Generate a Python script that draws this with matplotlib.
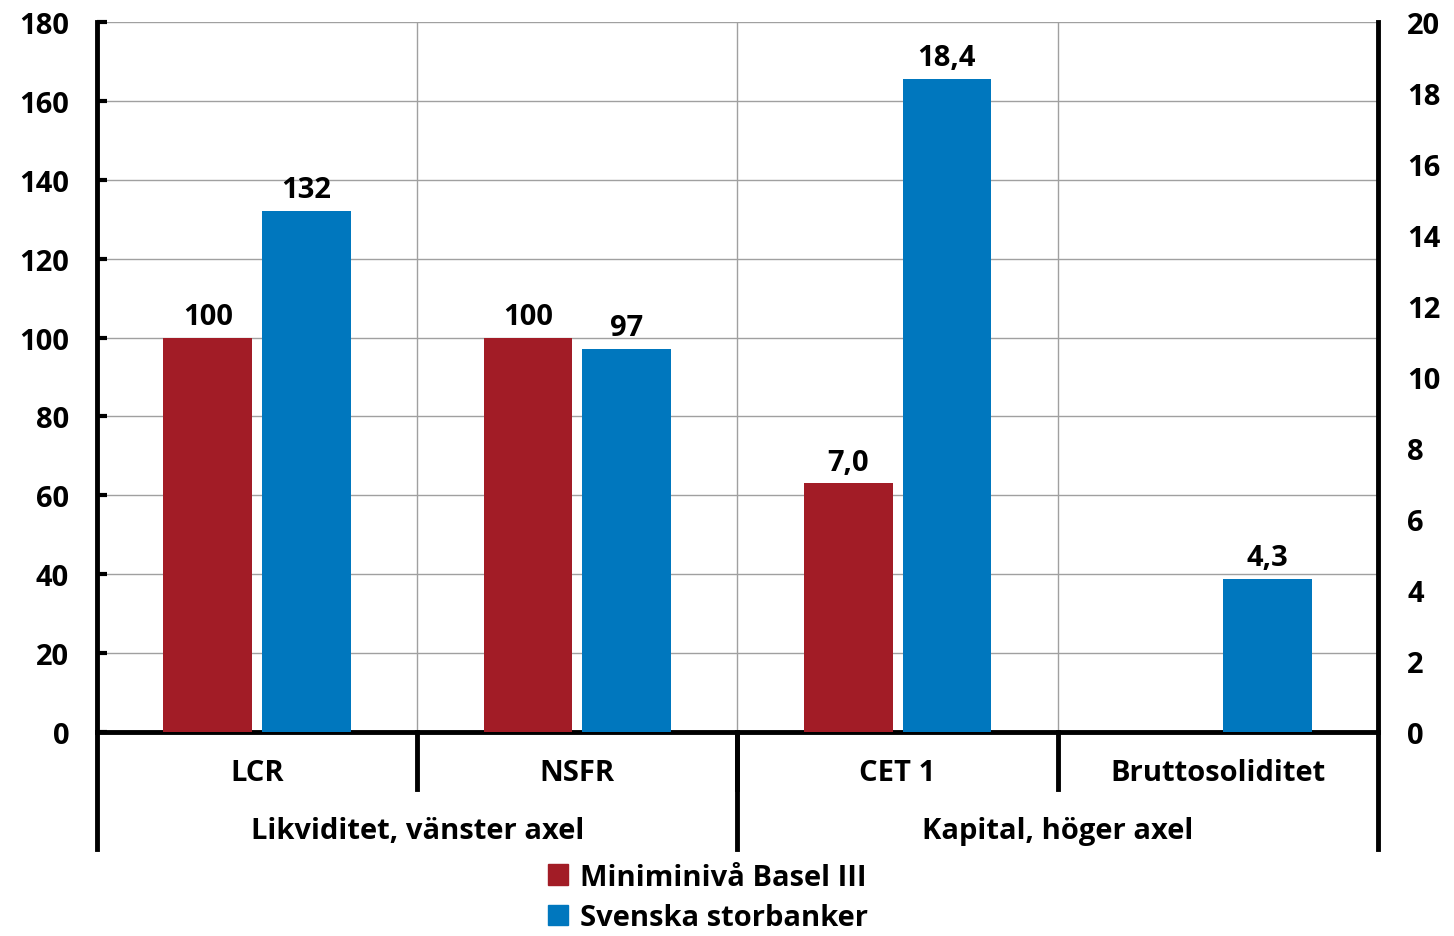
import matplotlib.pyplot as plt
import numpy as np
from matplotlib.patches import Patch
from matplotlib.transforms import blended_transform_factory

plt.rcParams['font.family'] = ['Open Sans', 'DejaVu Sans']
plt.rcParams['font.weight'] = 'bold'

categories = ['LCR', 'NSFR', 'CET 1', 'Bruttosoliditet']
groups = ['Likviditet, vänster axel', 'Kapital, höger axel']
series_names = ['Miniminivå Basel III', 'Svenska storbanker']

# liquidity (left axis)
liq_min = [100, 100]
liq_banks = [132, 97]
# capital (right axis)
cap_min = [7.0, np.nan]
cap_banks = [18.4, 4.3]

red = '#A21C26'
blue = '#0077BE'
fs = 21

fig = plt.figure(figsize=(14.54, 9.37), dpi=100)
ax = fig.add_axes([0.0667, 0.2177, 0.881, 0.7578])
ax2 = ax.twinx()

x = np.arange(len(categories))
w = 0.277
off = 0.154

b1 = ax.bar(x[:2] - off, liq_min, w, color=red, zorder=3)
b2 = ax.bar(x[:2] + off, liq_banks, w, color=blue, zorder=3)
b3 = ax2.bar(x[2:] - off, cap_min, w, color=red, zorder=3)
b4 = ax2.bar(x[2:] + off, cap_banks, w, color=blue, zorder=3)

ax.bar_label(b1, labels=[f'{v:.0f}' for v in liq_min], padding=5, fontsize=fs, fontweight='bold')
ax.bar_label(b2, labels=[f'{v:.0f}' for v in liq_banks], padding=5, fontsize=fs, fontweight='bold')
ax2.bar_label(b3, labels=['' if np.isnan(v) else f'{v:.1f}'.replace('.', ',') for v in cap_min],
              padding=5, fontsize=fs, fontweight='bold')
ax2.bar_label(b4, labels=[f'{v:.1f}'.replace('.', ',') for v in cap_banks], padding=5,
              fontsize=fs, fontweight='bold')

ax.set_xlim(-0.5, 3.5)
ax.set_ylim(0, 180)
ax.set_yticks(np.arange(0, 181, 20))
ax2.set_ylim(0, 20)
ax2.set_yticks(np.arange(0, 21, 2))

ax.grid(axis='y', color='#a0a0a0', lw=1, zorder=0)
for xv in [0.5, 1.5, 2.5]:
    ax.axvline(xv, color='#a0a0a0', lw=1, zorder=0)

ax.set_xticks([])
ax.tick_params(axis='y', direction='in', length=7, width=3, labelsize=fs, pad=20)
ax2.tick_params(axis='y', length=0, labelsize=fs, pad=21)
for a in (ax, ax2):
    for lab in a.get_yticklabels():
        lab.set_fontweight('bold')
    a.spines['top'].set_visible(False)
    a.spines['left'].set_linewidth(3.5)
    a.spines['right'].set_linewidth(3.5)
    a.spines['bottom'].set_linewidth(3.5)
ax2.spines['bottom'].set_visible(False)
ax.spines['right'].set_visible(False)
ax2.spines['left'].set_visible(False)

# category separators and group brackets below the axis
tr = blended_transform_factory(ax.transData, ax.transAxes)
for xv in [0.5, 1.5, 2.5]:
    ax.plot([xv, xv], [0, -0.08], transform=tr, color='black', lw=3.5, clip_on=False)
for xv in [-0.5, 1.5, 3.5]:
    ax.plot([xv, xv], [0, -0.165], transform=tr, color='black', lw=3.5, clip_on=False)

for xi, c in zip(x, categories):
    ax.text(xi, -0.057, c, transform=tr, ha='center', va='center', fontsize=fs, fontweight='bold')
ax.text(0.5, -0.139, groups[0], transform=tr, ha='center', va='center', fontsize=fs, fontweight='bold')
ax.text(2.5, -0.139, groups[1], transform=tr, ha='center', va='center', fontsize=fs, fontweight='bold')

handles = [Patch(color=red), Patch(color=blue)]
fig.legend(handles, series_names, loc='center', bbox_to_anchor=(0.487, 0.041), frameon=False,
           handlelength=0.7, handleheight=0.7, handletextpad=0.4, labelspacing=0.4,
           borderpad=0.1, prop={'size': fs, 'weight': 'bold'})

fig.savefig('out.png', dpi=100)
